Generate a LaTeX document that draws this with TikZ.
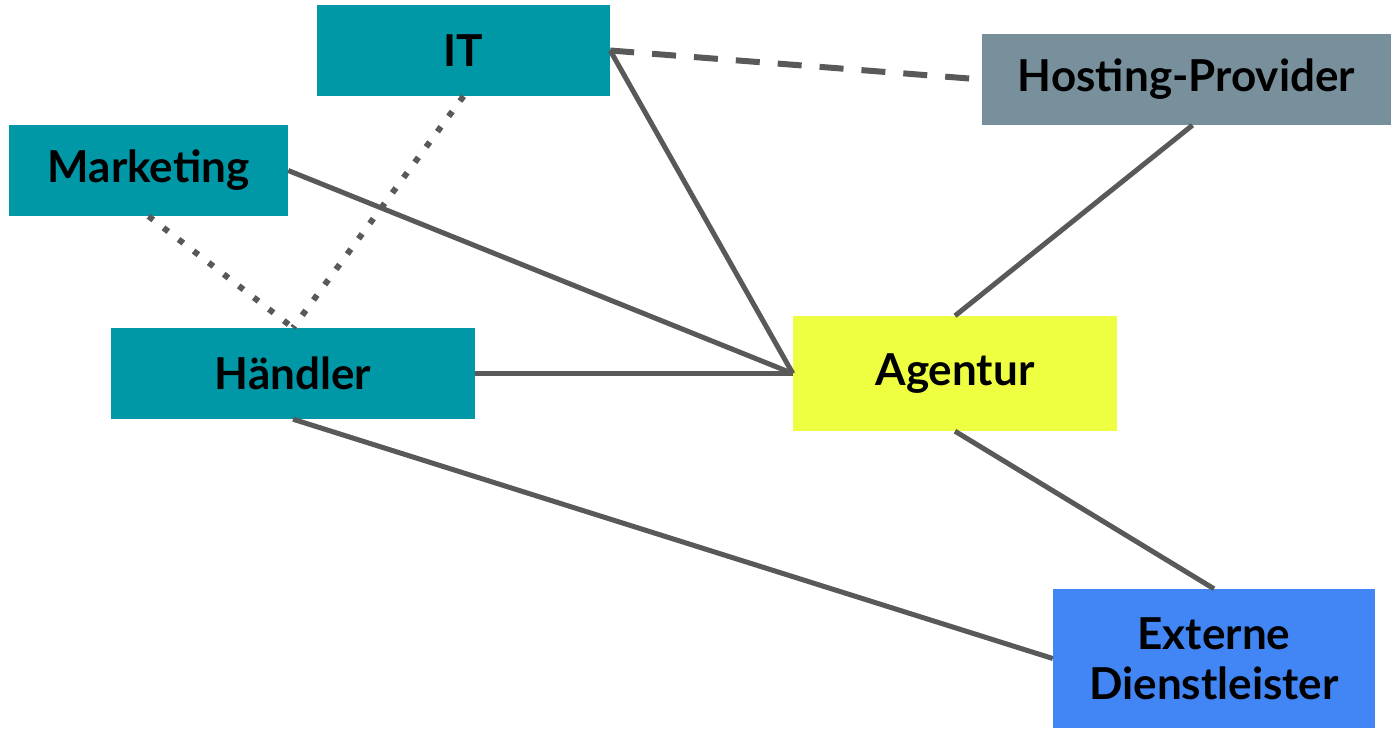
\documentclass[tikz,border=0pt]{standalone}
\usepackage{fontspec}
\setmainfont{Lato}
\begin{document}
\begin{tikzpicture}[x=1pt,y=-1pt,
  box/.style={rectangle,inner sep=0pt,font=\fontsize{44}{50}\selectfont\bfseries,text=black,align=center},
  teal/.style={box,fill=tealc},
  conn/.style={draw=linec,line width=5pt},
  dashconn/.style={draw=linec,line width=6pt,dash pattern=on 24pt off 18pt},
  dotconn/.style={draw=linec,line width=6pt,line cap=butt,dash pattern=on 6pt off 13pt}]
\definecolor{tealc}{HTML}{0097A7}
\definecolor{grayc}{HTML}{78909C}
\definecolor{yelc}{HTML}{EEFF41}
\definecolor{bluec}{HTML}{4285F4}
\definecolor{linec}{HTML}{595959}
\useasboundingbox (0,0) rectangle (1391,728);
\node[teal,minimum width=293pt,minimum height=91pt] (it) at (463.5,50.5) {IT};
\node[teal,minimum width=279pt,minimum height=91pt] (mk) at (148.5,170.5) {Marketing};
\node[teal,minimum width=364pt,minimum height=91pt] (hd) at (293,373.5) {Händler};
\node[box,fill=grayc,minimum width=409pt,minimum height=91pt] (hp) at (1186.5,79.5) {Hosting-Provider};
\node[box,fill=yelc,minimum width=324pt,minimum height=115pt] (ag) at (955,373.5) {Agentur};
\node[box,fill=bluec,minimum width=322pt,minimum height=139pt] (ex) at (1214,658.5) {Externe\\Dienstleister};
\draw[dashconn] (it.east) -- (hp.west);
\draw[conn] (it.east) -- (ag.west);
\draw[conn] (mk.east) -- (ag.west);
\draw[conn] (hd.east) -- (ag.west);
\draw[conn] ([xshift=6pt]hp.south) -- (ag.north);
\draw[conn] (ag.south) -- (ex.north);
\draw[conn] (hd.south) -- (ex.west);
\draw[dotconn] (mk.south) -- (hd.north);
\draw[dotconn] (it.south) -- (hd.north);
\end{tikzpicture}
\end{document}
